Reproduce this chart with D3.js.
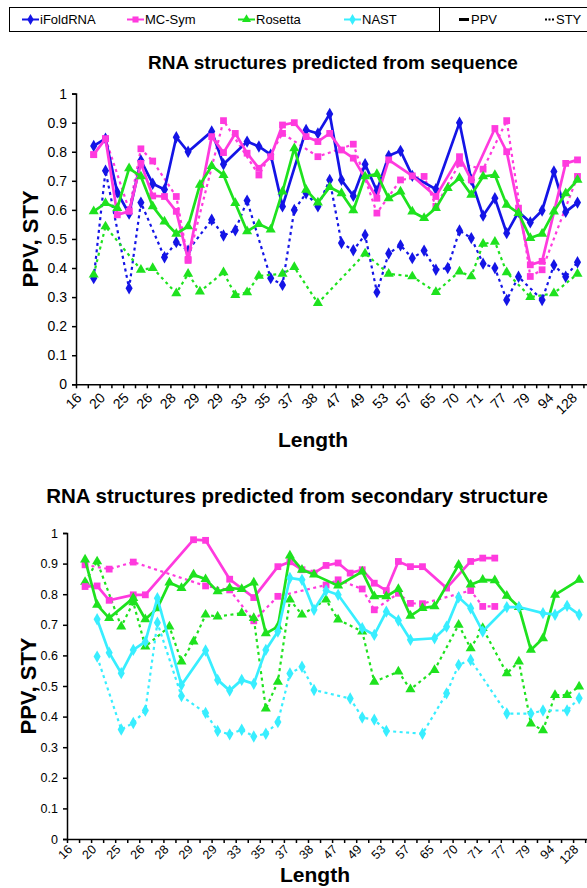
<!DOCTYPE html>
<html>
<head>
<meta charset="utf-8">
<script src="https://cdn.jsdelivr.net/npm/d3@7"></script>
<style>
  body { margin: 0; background: #fff; }
  svg { font-family: Arial, 'Liberation Sans', sans-serif; }
  .axis path, .axis line { stroke: #000; stroke-width: 1.5; }
</style>
</head>
<body>
<div id="chart"></div>
<script>
const lengths = ['16', '20', '25', '26', '28', '29', '29', '33', '35', '37', '38', '47', '49', '53', '57', '65', '70', '71', '77', '79', '94', '128']

// predicted from sequence
const seqIfoldPPV = [0.82, 0.845, 0.66, 0.587, 0.77, 0.69, 0.67, 0.85, 0.80, null, 0.87, 0.757, null, 0.835, 0.818, 0.79, 0.612, null, 0.875, 0.863, 0.93, 0.703, 0.648, 0.757, 0.665, 0.786, 0.803, 0.717, null, 0.671, null, 0.90, 0.703, 0.58, 0.64, 0.52, 0.593, 0.557, 0.598, 0.732, 0.593, 0.625]
const seqIfoldSTY = [0.365, 0.735, null, 0.33, 0.625, null, 0.437, 0.489, 0.46, null, 0.566, 0.512, 0.53, 0.632, null, 0.365, 0.342, 0.60, 0.657, 0.612, 0.703, 0.486, 0.461, 0.514, 0.317, 0.45, 0.478, 0.434, 0.46, 0.394, 0.40, 0.529, 0.503, 0.415, 0.40, 0.29, 0.37, null, 0.29, 0.41, 0.37, 0.42]
const seqMcsymPPV = [0.79, 0.845, 0.583, 0.595, 0.76, 0.648, 0.646, 0.595, 0.43, null, 0.852, 0.797, 0.863, 0.795, 0.743, 0.783, 0.892, 0.90, 0.852, 0.835, 0.863, 0.806, 0.778, null, 0.64, 0.772, null, 0.717, null, 0.646, null, 0.783, 0.703, null, 0.88, 0.80, 0.606, 0.411, 0.423, null, 0.76, 0.772]
const seqMcsymSTY = [0.79, 0.845, null, 0.60, 0.81, 0.768, null, 0.646, 0.426, null, null, 0.907, null, null, 0.72, null, 0.863, null, null, 0.783, null, null, 0.826, null, 0.589, null, 0.703, null, 0.715, 0.612, null, 0.76, null, 0.74, null, 0.907, null, 0.371, 0.394, null, null, 0.715]
const seqRosettaPPV = [0.595, 0.623, 0.606, 0.743, 0.715, 0.612, 0.56, 0.518, 0.543, 0.686, 0.751, 0.72, 0.623, 0.526, 0.551, 0.532, 0.663, 0.812, 0.669, 0.625, 0.678, 0.657, 0.598, 0.715, 0.723, 0.64, 0.663, 0.594, 0.572, 0.606, 0.675, 0.709, 0.652, 0.715, 0.72, 0.617, 0.589, 0.503, 0.518, 0.594, 0.657, 0.703]
const seqRosettaSTY = [0.377, 0.543, null, null, 0.394, 0.40, null, 0.313, 0.38, 0.319, null, 0.385, 0.307, 0.316, 0.373, null, 0.38, 0.403, null, 0.279, null, null, null, 0.45, null, 0.38, null, 0.371, null, 0.317, null, 0.388, 0.371, 0.483, 0.49, 0.385, null, 0.30, null, 0.313, null, 0.38]

// predicted from secondary structure
const ssMcsymPPV = [0.825, 0.827, 0.78, null, 0.798, 0.798, null, null, null, 0.978, 0.976, null, 0.849, null, 0.789, null, 0.89, 0.906, 0.88, 0.869, 0.894, 0.902, 0.869, 0.88, 0.836, 0.812, 0.907, 0.89, 0.89, null, 0.82, null, 0.907, 0.918, 0.918, null, null, null, null, null, null, null]
const ssMcsymSTY = [0.896, null, 0.882, null, 0.905, null, null, null, null, null, 0.827, null, 0.814, null, 0.713, null, 0.793, null, null, null, 0.83, 0.847, null, 0.817, 0.749, null, 0.803, 0.77, 0.769, null, null, null, 0.812, 0.76, 0.76, null, null, null, null, null, null, null]
const ssRosettaPPV = [0.913, 0.765, 0.722, null, 0.787, 0.718, 0.754, 0.838, 0.82, 0.864, 0.849, 0.809, 0.82, 0.817, 0.838, 0.672, 0.694, 0.926, 0.88, 0.864, null, 0.828, null, 0.874, 0.793, 0.793, 0.817, 0.729, 0.755, 0.76, null, 0.896, 0.831, 0.847, 0.845, 0.795, 0.758, 0.618, 0.656, 0.798, null, 0.847]
const ssRosettaSTY = [0.84, 0.907, null, 0.694, 0.773, 0.629, null, 0.694, 0.58, 0.645, 0.733, 0.727, null, 0.738, 0.722, 0.426, 0.514, 0.782, 0.733, null, 0.782, 0.717, null, 0.678, 0.514, null, 0.547, 0.489, null, 0.552, null, 0.70, 0.623, 0.689, null, 0.541, 0.58, 0.377, 0.355, 0.47, 0.47, 0.498]
const ssNastPPV = [null, 0.718, 0.609, 0.542, 0.618, 0.645, 0.787, null, 0.503, null, 0.616, 0.52, 0.485, 0.52, 0.507, 0.618, 0.678, 0.853, 0.847, 0.749, 0.812, 0.798, null, 0.689, 0.667, 0.743, 0.714, 0.651, null, 0.656, 0.694, 0.79, 0.754, 0.678, null, 0.758, 0.758, null, 0.738, 0.733, 0.762, 0.733]
const ssNastSTY = [null, 0.596, null, 0.358, 0.379, 0.42, 0.707, null, 0.467, null, 0.412, 0.353, 0.342, 0.357, 0.335, 0.344, 0.382, 0.541, 0.563, 0.487, null, null, 0.459, 0.397, 0.39, 0.353, null, null, 0.344, null, 0.476, 0.569, 0.585, null, null, 0.41, null, 0.41, 0.42, null, 0.42, 0.46]

const methods = ['iFoldRNA', 'MC-Sym', 'Rosetta', 'NAST']
const measures = ['PPV', 'STY']

const color = d3.scaleOrdinal(methods, ['#1414e6', '#ff3ade', '#1ee21e', '#38eeff'])
const shape = d3.scaleOrdinal(methods, [d3.symbolDiamond, d3.symbolSquare, d3.symbolTriangle, d3.symbolDiamond])
const shapeSize = { iFoldRNA: 44, 'MC-Sym': 46, Rosetta: 44, NAST: 44 }

const W = 587
const H = 888

const svg = d3.select('#chart').append('svg')
  .attr('width', W)
  .attr('height', H)

// legend
const legend = svg.append('g')
legend.append('rect').attr('x', 9.5).attr('y', 7.5).attr('width', 430).attr('height', 24)
  .attr('fill', 'none').attr('stroke', '#000')
legend.append('rect').attr('x', 439.5).attr('y', 7.5).attr('width', 160).attr('height', 24)
  .attr('fill', 'none').attr('stroke', '#000')

const legX = [22, 127, 238, 344]
methods.forEach((m, k) => {
  const lg = legend.append('g').attr('transform', `translate(${legX[k]}, 19.5)`)
  lg.append('line').attr('x1', 0).attr('x2', 17).attr('stroke', color(m)).attr('stroke-width', 2)
  lg.append('path').attr('d', d3.symbol(shape(m), shapeSize[m] * 0.8)()).attr('transform', 'translate(8.5, 0)').attr('fill', color(m))
  lg.append('text').attr('x', 18).attr('dy', '0.35em').style('font-size', '13px').text(m)
})
const legM = legend.append('g').attr('transform', 'translate(459, 19.5)')
legM.append('line').attr('x1', 0).attr('x2', 10).attr('stroke', '#000').attr('stroke-width', 3)
legM.append('text').attr('x', 12).attr('dy', '0.35em').style('font-size', '13px').text(measures[0])
const legS = legend.append('g').attr('transform', 'translate(545, 19.5)')
legS.append('line').attr('x1', 0).attr('x2', 10).attr('stroke', '#000').attr('stroke-width', 2)
  .attr('stroke-dasharray', '2,1.5')
legS.append('text').attr('x', 11).attr('dy', '0.35em').style('font-size', '13px').text(measures[1])

const panels = [
  {
    title: 'RNA structures predicted from sequence',
    titleX: 333, titleY: 69, titleSize: 19,
    left: 76, step: 11.8, top: 93.6, bottom: 384.3,
    fs: 14, labelGap: 11, lengthY: 447, yTitleX: 38, lengthX: 313,
    series: [
      ['iFoldRNA', 'STY', seqIfoldSTY], ['MC-Sym', 'STY', seqMcsymSTY], ['Rosetta', 'STY', seqRosettaSTY],
      ['iFoldRNA', 'PPV', seqIfoldPPV], ['MC-Sym', 'PPV', seqMcsymPPV], ['Rosetta', 'PPV', seqRosettaPPV]
    ]
  },
  {
    title: 'RNA structures predicted from secondary structure',
    titleX: 297, titleY: 503, titleSize: 20.5,
    left: 67, step: 12.05, top: 533, bottom: 839,
    fs: 12.5, labelGap: 8, lengthY: 882, yTitleX: 36, lengthX: 315,
    series: [
      ['MC-Sym', 'STY', ssMcsymSTY], ['Rosetta', 'STY', ssRosettaSTY], ['NAST', 'STY', ssNastSTY],
      ['MC-Sym', 'PPV', ssMcsymPPV], ['Rosetta', 'PPV', ssRosettaPPV], ['NAST', 'PPV', ssNastPPV]
    ]
  }
]

panels.forEach(p => {
  const x = d3.scaleLinear().domain([0, 44]).range([p.left, p.left + 44 * p.step])
  const y = d3.scaleLinear().domain([0, 1]).range([p.bottom, p.top])
  const g = svg.append('g')

  g.append('text')
    .attr('x', p.titleX).attr('y', p.titleY)
    .attr('text-anchor', 'middle')
    .style('font-size', p.titleSize + 'px').style('font-weight', 'bold')
    .text(p.title)

  const xAxis = d3.axisBottom(x)
    .tickValues(d3.range(0, 45))
    .tickSize(4)
    .tickSizeOuter(0)
    .tickFormat('')
  g.append('g')
    .attr('class', 'axis')
    .attr('transform', `translate(0, ${p.bottom})`)
    .call(xAxis)

  g.append('g').selectAll('text')
    .data(lengths)
    .join('text')
    .attr('transform', (d, i) => `translate(${x(i * 2) + 3}, ${p.bottom + p.labelGap}) rotate(-45)`)
    .attr('text-anchor', 'end')
    .attr('dy', '0.35em')
    .style('font-size', p.fs + 'px')
    .text(d => d)

  const yAxis = d3.axisLeft(y)
    .tickValues(d3.range(11).map(d => d / 10))
    .tickFormat(d => String(d))
    .tickSize(4)
    .tickPadding(5)
  const $y = g.append('g')
    .attr('class', 'axis')
    .attr('transform', `translate(${p.left}, 0)`)
    .call(yAxis)
  $y.selectAll('text').style('font-size', p.fs + 'px').attr('fill', '#000')

  g.append('text')
    .attr('transform', `translate(${p.yTitleX}, ${(p.top + p.bottom) / 2}) rotate(-90)`)
    .attr('text-anchor', 'middle')
    .style('font-size', '22px').style('font-weight', 'bold')
    .text(measures.join(', '))

  g.append('text')
    .attr('x', p.lengthX).attr('y', p.lengthY)
    .attr('text-anchor', 'middle')
    .style('font-size', '21px').style('font-weight', 'bold')
    .text('Length')

  const line = d3.line()
    .x(d => x(d.i + 1.5))
    .y(d => y(d.v))

  p.series.forEach(([m, kind, values]) => {
    const pts = values.map((v, i) => ({ i, v })).filter(d => d.v != null)
    g.append('path')
      .datum(pts)
      .attr('fill', 'none')
      .attr('stroke', color(m))
      .attr('stroke-width', kind === 'PPV' ? 2.7 : 2.2)
      .attr('stroke-dasharray', kind === 'PPV' ? null : '3,3.5')
      .attr('d', line)
    g.append('g').selectAll('path')
      .data(pts)
      .join('path')
      .attr('transform', d => `translate(${x(d.i + 1.5)}, ${y(d.v)})`)
      .attr('d', d3.symbol(shape(m), shapeSize[m]))
      .attr('fill', color(m))
  })
})
</script>
</body>
</html>
